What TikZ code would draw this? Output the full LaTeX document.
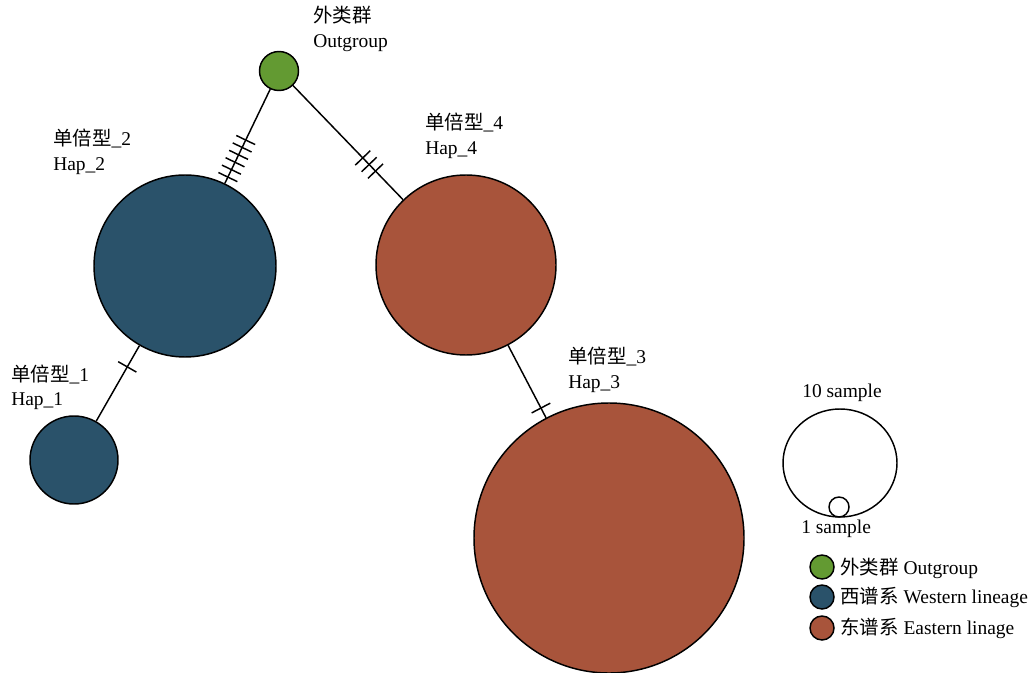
\documentclass[tikz,border=0pt]{standalone}
\usepackage{fontspec}
\setmainfont{Liberation Serif}
\newfontfamily\cjk{Noto Sans CJK SC}
\usetikzlibrary{shapes.geometric}
\definecolor{ogreen}{RGB}{99,154,50}
\definecolor{wblue}{RGB}{42,82,106}
\definecolor{eorange}{RGB}{168,84,59}
\tikzset{
  hap/.style={circle, draw=black, line width=1.1pt, inner sep=0pt},
  link/.style={line width=1.1pt},
  tickmark/.style={sloped, draw=black, line width=1.1pt, inner sep=0pt, minimum width=0pt, minimum height=15.75pt},
  lbl/.style={anchor=base west, inner sep=0pt, font=\fontsize{14.6}{17}\selectfont},
}
\begin{document}
\begin{tikzpicture}[x=0.75pt, y=-0.75pt]
\useasboundingbox (0,0) rectangle (1034,673);
% haplotype circles
\node[hap, fill=ogreen, minimum size=29.25pt] (og) at (279,71) {};
\node[hap, fill=wblue, minimum size=136.5pt] (h2) at (185,266) {};
\node[hap, fill=wblue, minimum size=66pt] (h1) at (74,460) {};
\node[hap, fill=eorange, minimum size=135pt] (h4) at (466,265) {};
\node[hap, fill=eorange, minimum size=202.5pt] (h3) at (609,538) {};
% connectors
\draw[link] (og) -- (h2);
\draw[link] (og) -- (h4);
\draw[link] (h2) -- (h1);
\draw[link] (h4) -- (h3);
% mutation ticks
\path (og.center) -- (h2.center)
  node[tickmark, pos=0.354] {} node[tickmark, pos=0.392] {} node[tickmark, pos=0.430] {}
  node[tickmark, pos=0.468] {} node[tickmark, pos=0.506] {} node[tickmark, pos=0.544] {};
\path (og.center) -- (h4.center)
  node[tickmark, pos=0.448] {} node[tickmark, pos=0.482] {} node[tickmark, pos=0.516] {};
\path (h2.center) -- (h1.center) node[tickmark, pos=0.52] {};
\path (h4.center) -- (h3.center) node[tickmark, pos=0.524] {};
% labels
\node[lbl] (tog1) at (313,23) {\cjk 外类群};
\node[lbl] (tog2) at (313,48) {Outgroup};
\node[lbl] (th21) at (53,146) {{\cjk 单倍型}\_2};
\node[lbl] (th22) at (53,171) {Hap\_2};
\node[lbl] (th11) at (11,381) {{\cjk 单倍型}\_1};
\node[lbl] (th12) at (11,405) {Hap\_1};
\node[lbl] (th41) at (425,130) {{\cjk 单倍型}\_4};
\node[lbl] (th42) at (425,155) {Hap\_4};
\node[lbl] (th31) at (568,363) {{\cjk 单倍型}\_3};
\node[lbl] (th32) at (568,388) {Hap\_3};
% size legend
\node[ellipse, draw=black, line width=1.1pt, inner sep=0pt, minimum width=85.5pt, minimum height=81pt] (big) at (840,463) {};
\node[hap, fill=white, minimum size=15pt] (small) at (839,507) {};
\node[lbl] (t10) at (802,397) {10 sample};
\node[lbl] (t1) at (801,533) {1 sample};
% colour legend
\node[hap, fill=ogreen, minimum size=18pt] (lg) at (822,567) {};
\node[hap, fill=wblue, minimum size=18pt] (lb) at (822,597) {};
\node[hap, fill=eorange, minimum size=18pt] (lo) at (822,628) {};
\node[lbl] (tlg) at (840,574) {{\cjk 外类群} Outgroup};
\node[lbl] (tlb) at (840,603) {{\cjk 西谱系} Western lineage};
\node[lbl] (tlo) at (840,634) {{\cjk 东谱系} Eastern linage};
\end{tikzpicture}
\end{document}
